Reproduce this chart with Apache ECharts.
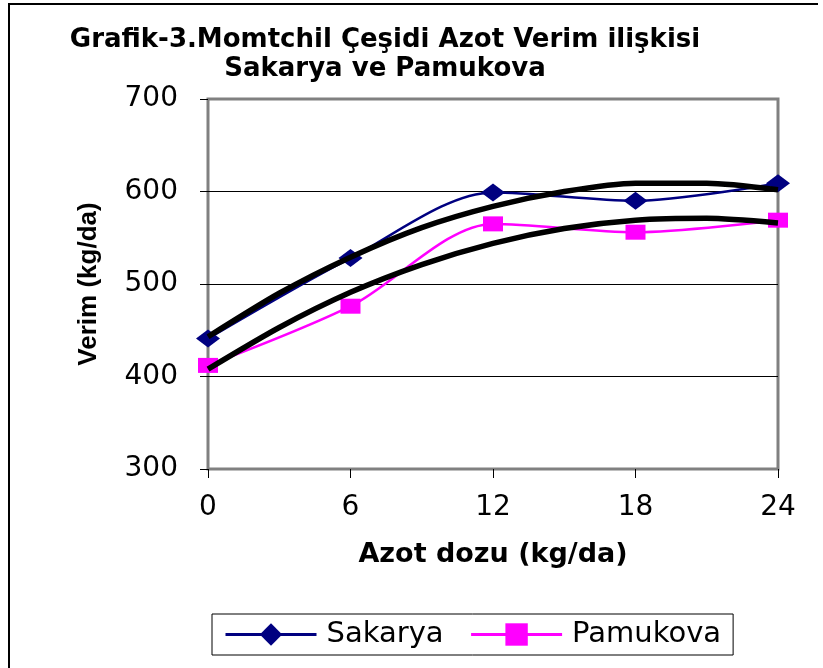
<!DOCTYPE html>
<html>
<head>
<meta charset="utf-8">
<title>Grafik-3</title>
<script src="https://cdn.jsdelivr.net/npm/echarts@6/dist/echarts.min.js"></script>
<style>
    html, body { margin: 0; padding: 0; background: #fff; }
    #chart { width: 823px; height: 668px; }
</style>
</head>
<body>
<div id="chart"></div>
<script>
// Azot dozu (kg/da)
var dozlar = [0, 6, 12, 18, 24];
// Verim (kg/da)
var sakaryaVerim = [441, 528, 599, 590, 609];
var pamukovaVerim = [412, 476, 565, 556, 569];

// siyah trend egrileri, grafikten okunan noktalar
var trendDoz = [0, 3, 6, 9, 12, 15, 18, 21, 24];
var sakaryaTrend = [443, 490, 529, 561, 584, 600, 609, 609, 602];
var pamukovaTrend = [408, 453, 491, 521, 544, 560, 569, 571, 566];

function eslestir(xs, ys) {
    var out = [];
    for (var i = 0; i < xs.length; i++) {
        out.push([xs[i], ys[i]]);
    }
    return out;
}

var myChart = echarts.init(document.getElementById('chart'));

var option = {
    backgroundColor: '#fff',
    animation: false,
    title: {
        text: 'Grafik-3.Momtchil Çeşidi Azot Verim ilişkisi\nSakarya ve Pamukova',
        left: 385,
        top: 26,
        textAlign: 'center',
        padding: 0,
        textStyle: {
            fontFamily: 'DejaVu Sans',
            fontSize: 26,
            fontWeight: 'bold',
            color: '#000',
            lineHeight: 29
        }
    },
    grid: {
        left: 208,
        right: 45,
        top: 99,
        bottom: 199,
        show: true,
        borderColor: '#808080',
        borderWidth: 3,
        backgroundColor: '#fff'
    },
    legend: {
        data: ['Sakarya', 'Pamukova'],
        left: 212,
        top: 614,
        orient: 'horizontal',
        itemWidth: 91,
        itemHeight: 28,
        itemGap: 26,
        padding: [6, 12, 6, 12],
        borderColor: '#000',
        borderWidth: 1,
        lineStyle: { width: 3 },
        textStyle: {
            fontFamily: 'DejaVu Sans',
            fontSize: 29,
            color: '#000',
            padding: [0, 0, 0, 5]
        }
    },
    xAxis: {
        type: 'value',
        min: 0,
        max: 24,
        interval: 6,
        name: 'Azot dozu (kg/da)',
        nameLocation: 'middle',
        nameGap: 72,
        nameTextStyle: {
            fontFamily: 'DejaVu Sans',
            fontSize: 27,
            fontWeight: 'bold',
            color: '#000'
        },
        axisLine: { show: false },
        axisTick: { show: true, inside: false, length: 9, lineStyle: { color: '#000', width: 1 } },
        axisLabel: { margin: 25, fontFamily: 'DejaVu Sans', fontSize: 28, color: '#000' },
        splitLine: { show: false }
    },
    yAxis: {
        type: 'value',
        min: 300,
        max: 700,
        interval: 100,
        name: 'Verim (kg/da)',
        nameLocation: 'middle',
        nameGap: 106,
        nameTextStyle: {
            fontFamily: 'Liberation Sans',
            fontSize: 26,
            fontWeight: 'bold',
            color: '#000'
        },
        axisLine: { show: false },
        axisTick: { show: true, inside: false, length: 8, lineStyle: { color: '#000', width: 1 } },
        axisLabel: { margin: 30, fontFamily: 'DejaVu Sans', fontSize: 28, color: '#000' },
        splitLine: {
            show: true,
            showMinLine: false,
            showMaxLine: false,
            lineStyle: { color: '#000', width: 1 }
        }
    },
    graphic: [
        {
            type: 'polyline',
            shape: { points: [[818, 4], [9, 4], [9, 668]] },
            style: { stroke: '#000', lineWidth: 2, fill: null },
            silent: true
        }
    ],
    series: [
        {
            name: 'Sakarya',
            type: 'line',
            smooth: 0.3,
            data: eslestir(dozlar, sakaryaVerim),
            symbol: 'diamond',
            symbolSize: [24, 18],
            lineStyle: { color: '#000080', width: 2.5 },
            itemStyle: { color: '#000080' },
            z: 3
        },
        {
            name: 'Pamukova',
            type: 'line',
            smooth: 0.3,
            data: eslestir(dozlar, pamukovaVerim),
            symbol: 'rect',
            symbolSize: [20, 15],
            lineStyle: { color: '#FF00FF', width: 2.5 },
            itemStyle: { color: '#FF00FF' },
            z: 3
        },
        {
            name: 'Sakarya trend',
            type: 'line',
            smooth: 0.25,
            data: eslestir(trendDoz, sakaryaTrend),
            showSymbol: false,
            symbol: 'none',
            lineStyle: { color: '#000', width: 5.5 },
            z: 4
        },
        {
            name: 'Pamukova trend',
            type: 'line',
            smooth: 0.25,
            data: eslestir(trendDoz, pamukovaTrend),
            showSymbol: false,
            symbol: 'none',
            lineStyle: { color: '#000', width: 5.5 },
            z: 4
        }
    ]
};

myChart.setOption(option);
</script>
</body>
</html>
